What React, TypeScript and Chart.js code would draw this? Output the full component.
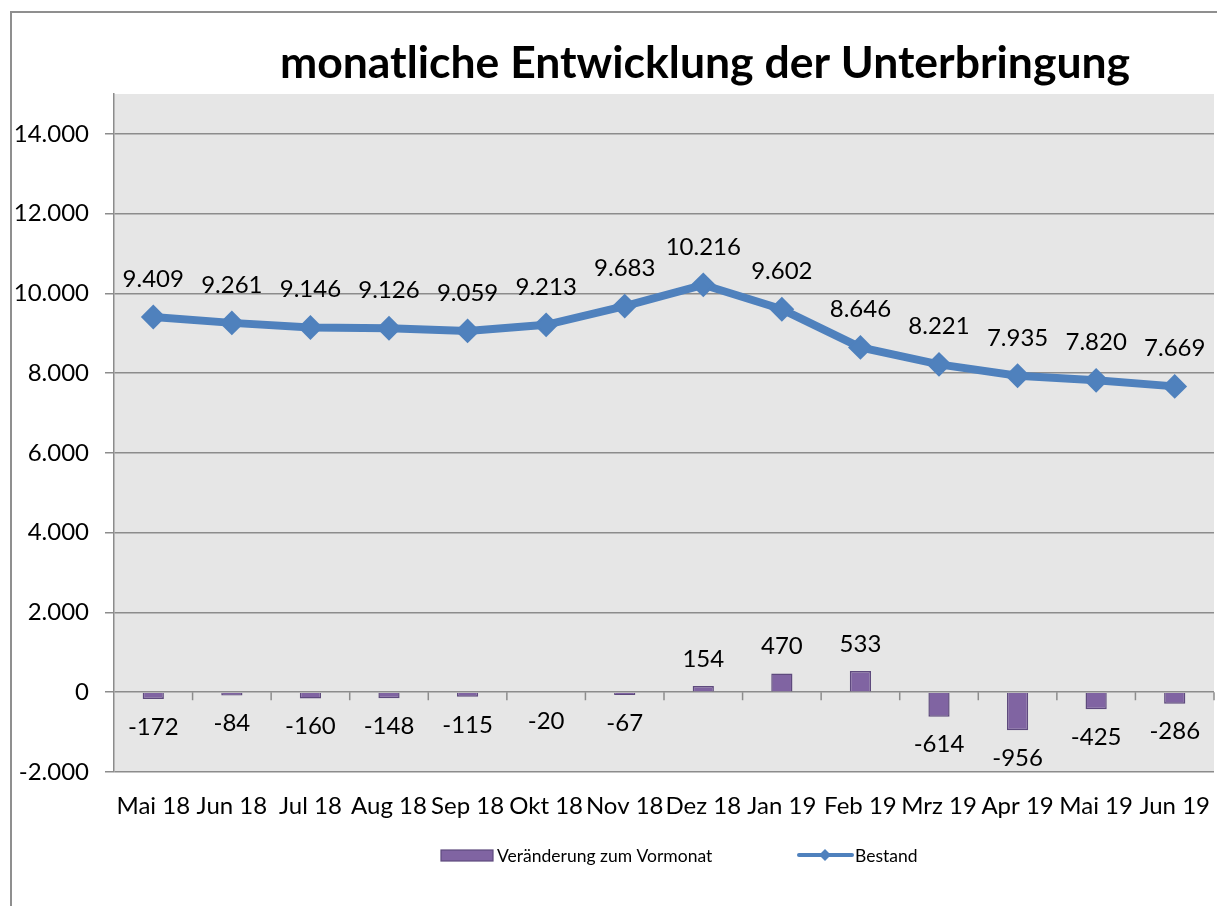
import React, { useEffect, useRef } from 'react';
import { Chart, registerables } from 'chart.js';

Chart.register(...registerables);

const categories = ['Mai 18', 'Jun 18', 'Jul 18', 'Aug 18', 'Sep 18', 'Okt 18', 'Nov 18', 'Dez 18', 'Jan 19', 'Feb 19', 'Mrz 19', 'Apr 19', 'Mai 19', 'Jun 19'];
const bestand = [9409, 9261, 9146, 9126, 9059, 9213, 9683, 10216, 9602, 8646, 8221, 7935, 7820, 7669];
const veraenderung = [-172, -84, -160, -148, -115, -20, -67, 154, 470, 533, -614, -956, -425, -286];
const yTickValues = [-2000, 0, 2000, 4000, 6000, 8000, 10000, 12000, 14000];
const yMin = -2000;
const yMax = 15000;

const TITLE = 'monatliche Entwicklung der Unterbringung';
const LEGEND_BAR = 'Veränderung zum Vormonat';
const LEGEND_LINE = 'Bestand';

const FONT = 'Lato, "Noto Sans", sans-serif';
const BLUE = '#4F81BD';
const PURPLE = '#8064A2';
const PURPLE_DARK = '#5E4A7D';
const GRID = '#8c8c8c';

const fmt = (v: number) => {
  const s = Math.abs(Math.round(v)).toString().replace(/\B(?=(\d{3})+(?!\d))/g, '.');
  return (v < 0 ? '-' : '') + s;
};

const decorPlugin = {
  id: 'decor',
  beforeDraw(chart: any) {
    const { ctx, chartArea } = chart;
    ctx.save();
    // outer chart frame (left and top edges visible)
    ctx.strokeStyle = '#8f8f8f';
    ctx.lineWidth = 2;
    ctx.beginPath();
    ctx.moveTo(11, chart.height);
    ctx.lineTo(11, 12);
    ctx.lineTo(chart.width, 12);
    ctx.stroke();
    ctx.fillStyle = '#E6E6E6';
    ctx.fillRect(chartArea.left, chartArea.top, chartArea.right - chartArea.left, chartArea.bottom - chartArea.top);
    ctx.restore();
  },
  beforeDatasetsDraw(chart: any) {
    const { ctx } = chart;
    const x = chart.scales.x;
    const y = chart.scales.y;
    const y0 = y.getPixelForValue(0);
    const step = x.getPixelForValue(1) - x.getPixelForValue(0);
    ctx.save();
    ctx.strokeStyle = GRID;
    ctx.lineWidth = 1.5;
    for (let i = 0; i < categories.length; i++) {
      const bx = x.getPixelForValue(i) + step / 2;
      ctx.beginPath();
      ctx.moveTo(bx, y0);
      ctx.lineTo(bx, y0 + 8);
      ctx.stroke();
    }
    ctx.restore();
  },
  afterDatasetsDraw(chart: any) {
    const { ctx } = chart;
    ctx.save();
    ctx.fillStyle = '#000';
    ctx.font = `24px ${FONT}`;
    ctx.textAlign = 'center';
    ctx.textBaseline = 'middle';
    chart.data.datasets.forEach((ds: any, di: number) => {
      const meta = chart.getDatasetMeta(di);
      meta.data.forEach((el: any, i: number) => {
        const v = ds.data[i];
        if (ds.type === 'line') {
          ctx.fillText(fmt(v), el.x, el.y - 38);
        } else {
          ctx.fillText(fmt(v), el.x, v >= 0 ? el.y - 27 : el.y + 28);
        }
      });
    });
    ctx.restore();
  },
  afterDraw(chart: any) {
    const { ctx } = chart;
    ctx.save();
    // title
    ctx.fillStyle = '#000';
    ctx.font = `bold 44.5px ${FONT}`;
    ctx.textAlign = 'center';
    ctx.textBaseline = 'alphabetic';
    ctx.fillText(TITLE, 705, 78);
    // legend
    ctx.font = `17.5px ${FONT}`;
    ctx.textAlign = 'left';
    ctx.textBaseline = 'middle';
    ctx.fillStyle = PURPLE;
    ctx.strokeStyle = PURPLE_DARK;
    ctx.lineWidth = 1.2;
    ctx.fillRect(441, 850, 52, 11);
    ctx.strokeRect(441, 850, 52, 11);
    ctx.fillStyle = '#000';
    ctx.fillText(LEGEND_BAR, 497, 856);
    ctx.strokeStyle = BLUE;
    ctx.lineWidth = 4;
    ctx.lineCap = 'round';
    ctx.beginPath();
    ctx.moveTo(799, 855);
    ctx.lineTo(852, 855);
    ctx.stroke();
    ctx.fillStyle = BLUE;
    ctx.beginPath();
    ctx.moveTo(825, 849);
    ctx.lineTo(831, 855);
    ctx.lineTo(825, 861);
    ctx.lineTo(819, 855);
    ctx.closePath();
    ctx.fill();
    ctx.fillStyle = '#000';
    ctx.fillText(LEGEND_LINE, 855, 856);
    ctx.restore();
  },
};

export default function App() {
  const ref = useRef<HTMLCanvasElement>(null);
  useEffect(() => {
    const chart = new Chart(ref.current!, {
      data: {
        labels: categories,
        datasets: [
          {
            type: 'line',
            label: LEGEND_LINE,
            data: bestand,
            borderColor: BLUE,
            backgroundColor: BLUE,
            borderWidth: 8,
            pointStyle: 'rectRot',
            pointRadius: 11,
            pointBorderWidth: 2,
            pointBackgroundColor: BLUE,
            pointBorderColor: BLUE,
            tension: 0,
            order: 0,
          } as any,
          {
            type: 'bar',
            label: LEGEND_BAR,
            data: veraenderung,
            backgroundColor: PURPLE,
            borderColor: PURPLE_DARK,
            borderWidth: 1.5,
            barPercentage: 0.27,
            categoryPercentage: 1,
            order: 1,
          } as any,
        ],
      },
      options: {
        animation: false,
        responsive: false,
        devicePixelRatio: 1,
        layout: { autoPadding: false, padding: { top: 94, right: 3, left: 0, bottom: 0 } },
        plugins: {
          legend: { display: false },
          title: { display: false },
          tooltip: { enabled: false },
        },
        scales: {
          x: {
            type: 'category',
            offset: true,
            grid: { display: false, drawTicks: false },
            border: { display: false },
            ticks: {
              color: '#000',
              font: { family: FONT, size: 24 },
              padding: 20,
              maxRotation: 0,
              autoSkip: false,
            },
            afterFit: (s: any) => {
              s.height = 134;
              s.paddingLeft = 0;
              s.paddingRight = 0;
            },
          },
          y: {
            type: 'linear',
            min: yMin,
            max: yMax,
            afterBuildTicks: (s: any) => {
              s.ticks = yTickValues.map((v) => ({ value: v }));
            },
            grid: { color: GRID, lineWidth: 1.5, tickLength: 9, drawTicks: true },
            border: { display: true, color: GRID, width: 1.5 },
            ticks: {
              color: '#000',
              font: { family: FONT, size: 24 },
              padding: 16,
              callback: (v: any) => fmt(Number(v)),
            },
            afterFit: (s: any) => {
              s.width = 114;
              s.paddingTop = 0;
              s.paddingBottom = 0;
            },
          },
        },
      },
      plugins: [decorPlugin],
    });
    return () => chart.destroy();
  }, []);
  return (
    <div style={{ position: 'fixed', left: 0, top: 0, width: 1217, height: 906, overflow: 'hidden', background: '#fff' }}>
      <canvas ref={ref} width={1217} height={906} style={{ position: 'absolute', left: 0, top: 0, width: 1217, height: 906 }} />
    </div>
  );
}
